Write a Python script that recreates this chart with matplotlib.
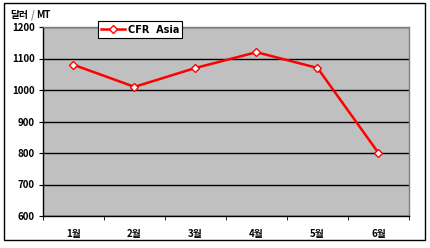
import numpy as np
import matplotlib
matplotlib.use("Agg")
import matplotlib.pyplot as plt
from matplotlib.patches import Rectangle

plt.rcParams['font.family'] = ['Noto Sans CJK KR', 'DejaVu Sans']

# data
months = ["1월", "2월", "3월", "4월", "5월", "6월"]
cfr_asia = [1080, 1010, 1070, 1120, 1070, 800]
y_ticks = [600, 700, 800, 900, 1000, 1100, 1200]

fig = plt.figure(figsize=(4.31, 2.48), dpi=100)
fig.patch.set_facecolor("white")

# outer chart border
fig.patches.append(Rectangle((4 / 431, 1 - 240 / 248), 421 / 431, 237 / 248,
                             transform=fig.transFigure, fill=False,
                             edgecolor="black", linewidth=1.0))

ax = fig.add_axes([43 / 431, 1 - 216 / 248, 366 / 431, 189 / 248])
ax.set_facecolor("#C0C0C0")

x = np.arange(len(months))
ax.plot(x, cfr_asia, color="#FF0000", linewidth=1.8, marker="D",
        markersize=4.5, markerfacecolor="white", markeredgecolor="#FF0000",
        markeredgewidth=1.0, label="CFR  Asia", zorder=3)

ax.set_xlim(-0.5, len(months) - 0.5)
ax.set_ylim(600, 1200)
ax.set_yticks(y_ticks)
ax.set_yticklabels([str(v) for v in y_ticks], fontsize=7, fontweight="bold")
ax.set_xticks(x)
ax.set_xticklabels(months, fontsize=7, fontweight="bold")
ax.tick_params(axis="x", length=0, pad=9)
ax.set_xticks(np.arange(-0.5, len(months), 1.0), minor=True)
ax.tick_params(axis="x", which="minor", length=3, direction="out")
ax.tick_params(axis="y", length=3, direction="out", pad=3)

ax.yaxis.grid(True, color="black", linewidth=1.0)
ax.set_axisbelow(True)
for s in ["left", "bottom"]:
    ax.spines[s].set_color("black")
    ax.spines[s].set_linewidth(1.0)
for s in ["top", "right"]:
    ax.spines[s].set_color("#808080")
    ax.spines[s].set_linewidth(1.0)

# unit label
fig.text(10 / 431, 1 - 15 / 248, "달러", fontsize=7, fontweight="bold", va="center")
fig.text(31 / 431, 1 - 15 / 248, "/", fontsize=7, fontweight="bold",
         color="#808080", va="center")
fig.text(36 / 431, 1 - 15 / 248, "MT", fontsize=7, fontweight="bold", va="center")

leg = ax.legend(loc="upper left", bbox_to_anchor=(55 / 366, 1.03),
                prop={"family": "DejaVu Sans", "weight": "bold", "size": 7},
                frameon=True, fancybox=False, borderpad=0.35,
                handlelength=2.4, handletextpad=0.3, borderaxespad=0)
leg.get_frame().set_edgecolor("black")
leg.get_frame().set_linewidth(0.8)
leg.get_frame().set_facecolor("white")
leg.get_frame().set_alpha(1)

fig.savefig("out.png", dpi=100)
